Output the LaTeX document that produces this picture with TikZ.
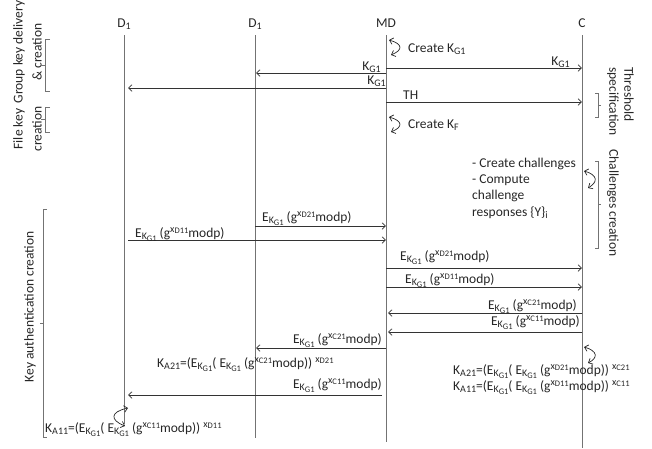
\documentclass[tikz,border=0pt]{standalone}
\usepackage{fontspec}
\setmainfont{Carlito}
\usetikzlibrary{arrows.meta}
\newcommand{\sbA}[1]{\raisebox{-0.4ex}{\fontsize{10}{10}\selectfont #1}}
\newcommand{\sbB}[1]{\raisebox{-0.3ex}{\fontsize{8.5}{8.5}\selectfont #1}}
\newcommand{\spA}[1]{\raisebox{0.7ex}{\fontsize{10}{10}\selectfont #1}}
\newcommand{\KGone}{K\sbA{G1}}
\newcommand{\EK}{E\sbA{K\sbB{G1}}}
\newcommand{\gx}[1]{g\spA{x\sbB{#1}}}
\newcommand{\xp}[1]{\spA{x\sbB{#1}}}
\begin{document}
\begin{tikzpicture}[x=1pt,y=-1pt,
  >={Straight Barb[length=3.5pt,width=6.5pt]},
  txt/.style={font=\fontsize{13.5}{16.5}\selectfont, inner sep=0pt, text=black!85},
  life/.style={draw=black!55, line width=0.6pt},
  msg/.style={draw=black!80, line width=0.7pt, ->},
  loopy/.style={draw=black!85, line width=0.7pt, <->},
  brk/.style={draw=black!55, line width=0.6pt}]
\useasboundingbox (0,0) rectangle (652,448);
% headers
\node[txt, anchor=base] (hD1) at (124,27) {D\sbA{1}};
\node[txt, anchor=base] (hD2) at (255,27) {D\sbA{1}};
\node[txt, anchor=base] (hMD) at (386,27) {MD};
\node[txt, anchor=base] (hC)  at (582,27) {C};
% lifelines
\coordinate (d1) at (124,35); \coordinate (d1e) at (124,424);
\coordinate (d2) at (255,35); \coordinate (d2e) at (255,438);
\coordinate (md) at (386,35); \coordinate (mde) at (386,442);
\coordinate (c)  at (582,35); \coordinate (ce)  at (582,448);
\draw[life] (d1) -- (d1e);
\draw[life] (d2) -- (d2e);
\draw[life] (md) -- (mde);
\draw[life] (c) -- (ce);
% rows
\coordinate (r1) at (0,68);
\coordinate (r2) at (0,73);
\coordinate (r3) at (0,88);
\coordinate (r4) at (0,102);
\coordinate (r5) at (0,226);
\coordinate (r6) at (0,240);
\coordinate (r7) at (0,268);
\coordinate (r8) at (0,287);
\coordinate (r9) at (0,313);
\coordinate (r10) at (0,332);
\coordinate (r11) at (0,348);
\coordinate (r12) at (0,395);
% messages
\draw[msg] (md |- r1) -- (c |- r1);
\draw[msg, shorten >=1pt] (md |- r2) -- (d2 |- r2);
\draw[msg, shorten >=4pt] (md |- r3) -- (d1 |- r3);
\draw[msg] (md |- r4) -- (c |- r4);
\draw[msg] (d2 |- r5) -- (md |- r5);
\draw[msg, shorten <=4pt] (d1 |- r6) -- (md |- r6);
\draw[msg] (md |- r7) -- (c |- r7);
\draw[msg] (md |- r8) -- (c |- r8);
\draw[msg, shorten >=2pt] (c |- r9) -- (md |- r9);
\draw[msg, shorten >=2pt] (c |- r10) -- (md |- r10);
\draw[msg, shorten >=1pt] (md |- r11) -- (d2 |- r11);
\draw[msg, shorten >=4pt, shorten <=4pt] (md |- r12) -- (d1 |- r12);
% message labels
\node[txt, anchor=base east] (l1) at (570,65) {\KGone};
\node[txt, anchor=base east] (l2) at (381,70) {\KGone};
\node[txt, anchor=base east] (l3) at (386,84) {\KGone};
\node[txt, anchor=base west] (l4) at (403,99) {TH};
\node[txt, anchor=base west] (l5) at (262,221) {\EK\ (\gx{D21}modp)};
\node[txt, anchor=base west] (l6) at (135,237) {\EK\ (\gx{D11}modp)};
\node[txt, anchor=base west] (l7) at (400,260) {\EK\ (\gx{D21}modp)};
\node[txt, anchor=base west] (l8) at (405,283) {\EK\ (\gx{D11}modp)};
\node[txt, anchor=base east] (l9) at (577,309) {\EK\ (\gx{C21}modp)};
\node[txt, anchor=base east] (l10) at (580,325) {\EK\ (\gx{C11}modp)};
\node[txt, anchor=base east] (l11) at (382,343) {\EK\ (\gx{C21}modp)};
\node[txt, anchor=base east] (l12) at (382,388) {\EK\ (\gx{C11}modp)};
% self actions
\node[txt, anchor=base west] (t1) at (408,52) {Create \KGone};
\node[txt, anchor=base west] (t2) at (408,128) {Create K\sbA{F}};
\node[txt, anchor=base west] (t3) at (472,167) {- Create challenges};
\node[txt, anchor=base west] (t4) at (472,183) {- Compute};
\node[txt, anchor=base west] (t5) at (472,199) {challenge};
\node[txt, anchor=base west] (t6) at (472,216) {responses \{Y\}\sbA{i}};
\node[txt, anchor=base west] (k1) at (157,367) {K\sbA{A21}=(\EK( \EK\ (\gx{C21}modp)) \xp{D21}};
\node[txt, anchor=base west] (k2) at (453,374) {K\sbA{A21}=(\EK( \EK\ (\gx{D21}modp)) \xp{C21}};
\node[txt, anchor=base west] (k3) at (453,390) {K\sbA{A11}=(\EK( \EK\ (\gx{D11}modp)) \xp{C11}};
\node[txt, anchor=base west] (k4) at (45,432) {K\sbA{A11}=(\EK( \EK\ (\gx{C11}modp)) \xp{D11}};
% loops
\coordinate (s1a) at (389,40); \coordinate (s1b) at (391,55);
\draw[loopy] (s1a) .. controls (403,44) and (403,50) .. (s1b);
\coordinate (s2a) at (389,117); \coordinate (s2b) at (391,132);
\draw[loopy] (s2a) .. controls (403,121) and (403,127) .. (s2b);
\coordinate (s3a) at (584,171); \coordinate (s3b) at (588,188);
\draw[loopy] (s3a) .. controls (598,175) and (598,182) .. (s3b);
\coordinate (s4a) at (584,347); \coordinate (s4b) at (588,363);
\draw[loopy] (s4a) .. controls (598,351) and (598,358) .. (s4b);
\coordinate (s5a) at (128,408); \coordinate (s5b) at (125,426);
\draw[loopy] (s5a) .. controls (110,412) and (110,420) .. (s5b);
% phase labels left
\node[txt, rotate=90, align=center, font=\fontsize{13.5}{19}\selectfont] (p1) at (27.5,52) {Group key delivery\\\& creation};
\node[txt, rotate=90, align=center, font=\fontsize{13.5}{19}\selectfont] (p2) at (27.5,129) {File key\\creation};
\node[txt, rotate=90] (p3) at (30,307) {Key authentication creation};
\node[txt, rotate=-90, align=left, anchor=west, font=\fontsize{13.5}{15}\selectfont] (p4) at (620.5,67) {Threshold\\specification};
\node[txt, rotate=-90] (p5) at (613,203) {Challenges creation};
% brackets
\draw[brk] (50,39) -- (45,39) -- (45,91) -- (50,91);
\draw[brk] (45,65) -- (41,65);
\draw[brk] (50,107) -- (45,107) -- (45,132) -- (50,132);
\draw[brk] (45,119.5) -- (41,119.5);
\draw[brk] (47,209) -- (43,209) -- (43,437) -- (47,437);
\draw[brk] (43,323) -- (40,323);
\draw[brk] (595,93) -- (598,93) -- (598,117) -- (595,117);
\draw[brk] (598,105) -- (601,105);
\draw[brk] (595,161) -- (598,161) -- (598,248) -- (595,248);
\draw[brk] (598,204) -- (601,204);
\end{tikzpicture}
\end{document}
